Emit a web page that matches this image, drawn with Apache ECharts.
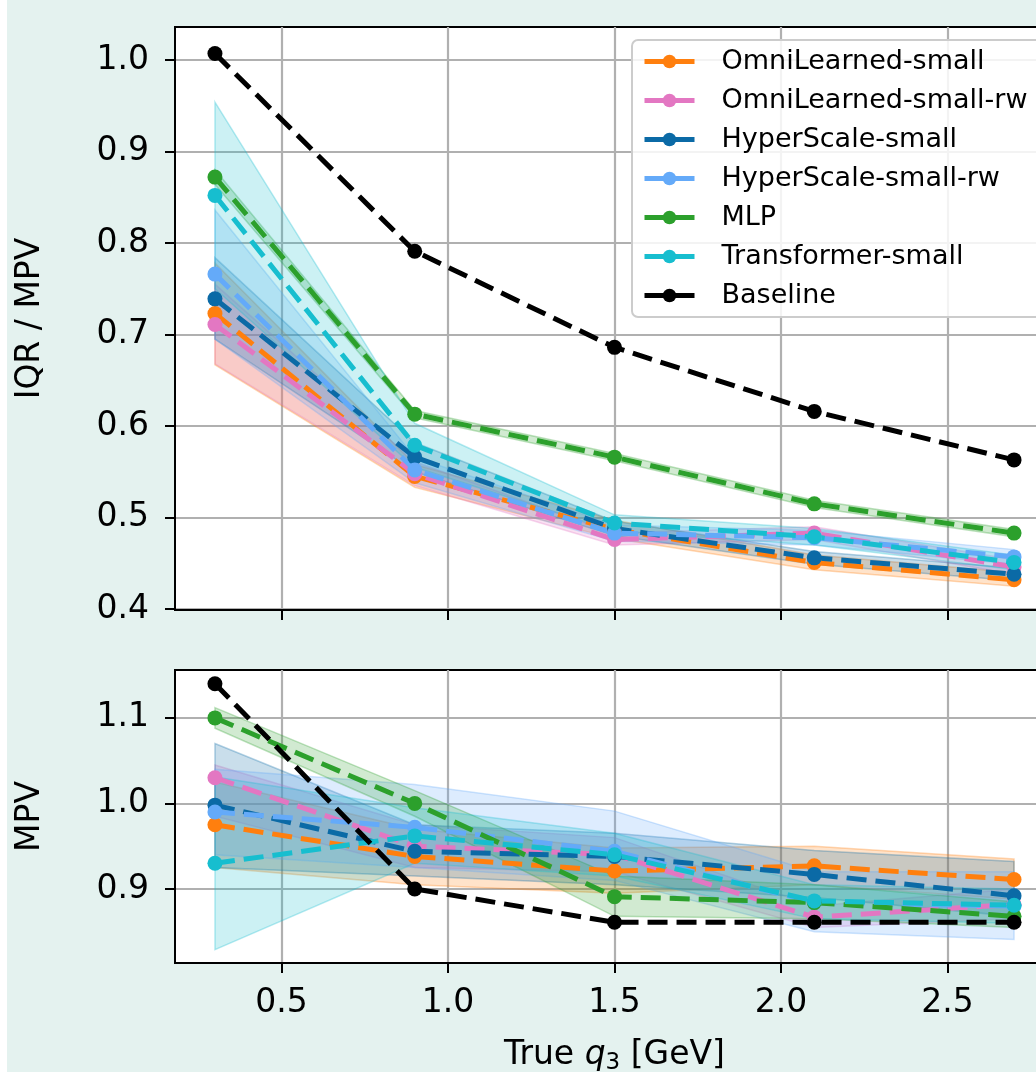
<!DOCTYPE html>
<html>
<head>
<meta charset="utf-8">
<script src="https://cdn.jsdelivr.net/npm/echarts@6/dist/echarts.min.js"></script>
<style>
  html, body { margin: 0; padding: 0; overflow: hidden; background: #ffffff; }
  #chart { position: absolute; left: 0; top: 0; width: 1100px; height: 1072px;
           background: linear-gradient(to right, #ffffff 0, #ffffff 7px, #e4f2ef 7px); }
</style>
</head>
<body>
<div id="chart"></div>
<script>
// ---------- data ----------
const xValues = [0.3, 0.9, 1.5, 2.1, 2.7];
const xTickValues = [0.5, 1.0, 1.5, 2.0, 2.5];
const topTickValues = [0.4, 0.5, 0.6, 0.7, 0.8, 0.9, 1.0];
const bottomTickValues = [0.9, 1.0, 1.1];

const seriesNames = ['OmniLearned-small', 'OmniLearned-small-rw', 'HyperScale-small',
                     'HyperScale-small-rw', 'MLP', 'Transformer-small', 'Baseline'];
const seriesColors = ['#ff7f0e', '#e377c2', '#0b6aa6', '#64aaf9', '#2ca02c', '#17becf', '#000000'];

// top panel: IQR / MPV
const iqrOmni      = [0.723, 0.545, 0.487, 0.451, 0.432];
const iqrOmniLow   = [0.667, 0.533, 0.477, 0.443, 0.425];
const iqrOmniHigh  = [0.778, 0.558, 0.497, 0.459, 0.440];
const iqrOmniRw     = [0.711, 0.548, 0.476, 0.483, 0.446];
const iqrOmniRwLow  = [0.668, 0.535, 0.470, 0.476, 0.438];
const iqrOmniRwHigh = [0.755, 0.561, 0.483, 0.490, 0.454];
const iqrHyper      = [0.739, 0.566, 0.488, 0.456, 0.438];
const iqrHyperLow   = [0.695, 0.550, 0.480, 0.449, 0.431];
const iqrHyperHigh  = [0.784, 0.582, 0.496, 0.463, 0.445];
const iqrHyperRw     = [0.766, 0.552, 0.483, 0.478, 0.457];
const iqrHyperRwLow  = [0.695, 0.538, 0.474, 0.470, 0.449];
const iqrHyperRwHigh = [0.836, 0.566, 0.492, 0.486, 0.465];
const iqrMlp      = [0.872, 0.613, 0.566, 0.515, 0.483];
const iqrMlpLow   = [0.864, 0.609, 0.562, 0.511, 0.479];
const iqrMlpHigh  = [0.880, 0.617, 0.570, 0.519, 0.487];
const iqrTrans     = [0.852, 0.579, 0.494, 0.479, 0.451];
const iqrTransLow  = [0.750, 0.555, 0.485, 0.470, 0.443];
const iqrTransHigh = [0.954, 0.603, 0.503, 0.488, 0.459];
const iqrBaseline  = [1.007, 0.791, 0.686, 0.616, 0.563];

// bottom panel: MPV
const mpvOmni      = [0.975, 0.938, 0.921, 0.927, 0.911];
const mpvOmniLow   = [0.925, 0.905, 0.895, 0.905, 0.888];
const mpvOmniHigh  = [1.025, 0.970, 0.948, 0.950, 0.935];
const mpvOmniRw     = [1.030, 0.950, 0.940, 0.867, 0.882];
const mpvOmniRwLow  = [0.985, 0.925, 0.920, 0.855, 0.865];
const mpvOmniRwHigh = [1.045, 0.975, 0.960, 0.880, 0.900];
const mpvHyper      = [0.998, 0.944, 0.938, 0.917, 0.892];
const mpvHyperLow   = [0.925, 0.915, 0.905, 0.890, 0.868];
const mpvHyperHigh  = [1.070, 0.975, 0.965, 0.945, 0.932];
const mpvHyperRw     = [0.990, 0.972, 0.944, 0.884, 0.880];
const mpvHyperRwLow  = [0.940, 0.925, 0.910, 0.850, 0.841];
const mpvHyperRwHigh = [1.040, 1.022, 0.991, 0.920, 0.920];
const mpvMlp      = [1.100, 1.000, 0.891, 0.884, 0.868];
const mpvMlpLow   = [1.088, 0.985, 0.868, 0.865, 0.855];
const mpvMlpHigh  = [1.112, 1.015, 0.915, 0.905, 0.885];
const mpvTrans     = [0.930, 0.962, 0.940, 0.886, 0.881];
const mpvTransLow  = [0.829, 0.930, 0.915, 0.865, 0.860];
const mpvTransHigh = [1.031, 0.995, 0.965, 0.905, 0.900];
const mpvBaseline  = [1.140, 0.900, 0.861, 0.861, 0.861];

const topLines  = [iqrOmni, iqrOmniRw, iqrHyper, iqrHyperRw, iqrMlp, iqrTrans, iqrBaseline];
const topLows   = [iqrOmniLow, iqrOmniRwLow, iqrHyperLow, iqrHyperRwLow, iqrMlpLow, iqrTransLow, null];
const topHighs  = [iqrOmniHigh, iqrOmniRwHigh, iqrHyperHigh, iqrHyperRwHigh, iqrMlpHigh, iqrTransHigh, null];
const botLines  = [mpvOmni, mpvOmniRw, mpvHyper, mpvHyperRw, mpvMlp, mpvTrans, mpvBaseline];
const botLows   = [mpvOmniLow, mpvOmniRwLow, mpvHyperLow, mpvHyperRwLow, mpvMlpLow, mpvTransLow, null];
const botHighs  = [mpvOmniHigh, mpvOmniRwHigh, mpvHyperHigh, mpvHyperRwHigh, mpvMlpHigh, mpvTransHigh, null];

// ---------- chart ----------
const FONT = 'DejaVu Sans';
function rgba(hex, a) {
  const r = parseInt(hex.slice(1, 3), 16), g = parseInt(hex.slice(3, 5), 16), b = parseInt(hex.slice(5, 7), 16);
  return `rgba(${r},${g},${b},${a})`;
}

function bandSeries(idx, lows, highs, axisIndex) {
  const color = seriesColors[idx];
  const lo = lows[idx], hi = highs[idx];
  return {
    type: 'custom',
    name: seriesNames[idx] + ' band',
    xAxisIndex: axisIndex, yAxisIndex: axisIndex,
    silent: true, z: 1,
    data: xValues.map((x, i) => [x, lo[i], hi[i]]),
    encode: { x: 0, y: [1, 2] },
    renderItem: function (params, api) {
      if (params.dataIndex !== 0) return null;
      const pts = [];
      for (let i = 0; i < xValues.length; i++) pts.push(api.coord([xValues[i], hi[i]]));
      for (let i = xValues.length - 1; i >= 0; i--) pts.push(api.coord([xValues[i], lo[i]]));
      return {
        type: 'polygon',
        shape: { points: pts },
        style: { fill: rgba(color, 0.22), stroke: rgba(color, 0.3), lineWidth: 1.5 }
      };
    }
  };
}

function lineSeries(idx, lines, axisIndex) {
  const color = seriesColors[idx];
  return {
    type: 'line',
    name: seriesNames[idx],
    xAxisIndex: axisIndex, yAxisIndex: axisIndex,
    z: 3,
    data: xValues.map((x, i) => [x, lines[idx][i]]),
    symbol: 'circle', symbolSize: 15, showSymbol: true,
    itemStyle: { color: color },
    lineStyle: { color: color, width: 5, type: [20, 9] },
    animation: false
  };
}

const series = [];
for (let i = 0; i < 6; i++) series.push(bandSeries(i, topLows, topHighs, 0));
for (let i = 0; i < 6; i++) series.push(bandSeries(i, botLows, botHighs, 1));
for (let i = 0; i < 7; i++) series.push(lineSeries(i, topLines, 0));
for (let i = 0; i < 7; i++) series.push(lineSeries(i, botLines, 1));

const gridStyle = { show: true, backgroundColor: '#ffffff', borderColor: '#000000', borderWidth: 2,
                    containLabel: false, outerBoundsMode: 'none' };

function xAxis(gridIndex, showLabels) {
  return {
    type: 'value', gridIndex: gridIndex, min: 0.18, max: 2.82,
    axisLine: { show: true, onZero: false, lineStyle: { color: '#000', width: 2 } },
    axisTick: { show: true, inside: false, length: 10, lineStyle: { color: '#000', width: 2 }, customValues: xTickValues },
    axisLabel: { show: showLabels, customValues: xTickValues, margin: 24, fontFamily: FONT, fontSize: 33, color: '#000',
                 formatter: v => v.toFixed(1) },
    splitLine: { show: true, lineStyle: { color: '#b0b0b0', width: 2.2 } },
    name: showLabels ? 'True {i|q}{s|3} [GeV]' : '',
    nameLocation: 'middle', nameGap: 72,
    nameTextStyle: {
      fontFamily: FONT, fontSize: 33, color: '#000', lineHeight: 40,
      rich: {
        i: { fontFamily: FONT, fontSize: 33, fontStyle: 'italic', color: '#000', lineHeight: 40 },
        s: { fontFamily: FONT, fontSize: 23, color: '#000', lineHeight: 20, verticalAlign: 'bottom' }
      }
    }
  };
}

function yAxis(gridIndex, min, max, ticks, name) {
  return {
    type: 'value', gridIndex: gridIndex, min: min, max: max,
    axisLine: { show: true, onZero: false, lineStyle: { color: '#000', width: 2 } },
    axisTick: { show: true, inside: false, length: 10, lineStyle: { color: '#000', width: 2 }, customValues: ticks },
    axisLabel: { show: true, customValues: ticks, margin: 26, fontFamily: FONT, fontSize: 33, color: '#000',
                 formatter: v => v.toFixed(1) },
    splitLine: { show: true, lineStyle: { color: '#b0b0b0', width: 2.2 } },
    name: name, nameLocation: 'middle', nameGap: 128,
    nameTextStyle: { fontFamily: FONT, fontSize: 33, color: '#000' }
  };
}

const chart = echarts.init(document.getElementById('chart'), null, { renderer: 'canvas' });
chart.setOption({
  animation: false,
  backgroundColor: 'transparent',
  grid: [
    Object.assign({ left: 175, top: 27, width: 879, height: 583 }, gridStyle),
    Object.assign({ left: 175, top: 670, width: 879, height: 293 }, gridStyle)
  ],
  xAxis: [xAxis(0, false), xAxis(1, true)],
  yAxis: [yAxis(0, 0.399, 1.036, topTickValues, 'IQR / MPV'),
          yAxis(1, 0.8134, 1.156, bottomTickValues, 'MPV')],
  legend: {
    data: seriesNames,
    orient: 'vertical', left: 632, top: 40,
    backgroundColor: 'rgba(255,255,255,0.85)', borderColor: '#cccccc', borderWidth: 2, borderRadius: 6,
    padding: [6, 14, 6, 10],
    itemWidth: 50, itemHeight: 17, itemGap: 8,
    lineStyle: { type: 'solid', width: 5 },
    textStyle: { fontFamily: FONT, fontSize: 27, color: '#000', lineHeight: 31, padding: [0, 0, 0, 22] }
  },
  series: series
});
</script>
</body>
</html>
